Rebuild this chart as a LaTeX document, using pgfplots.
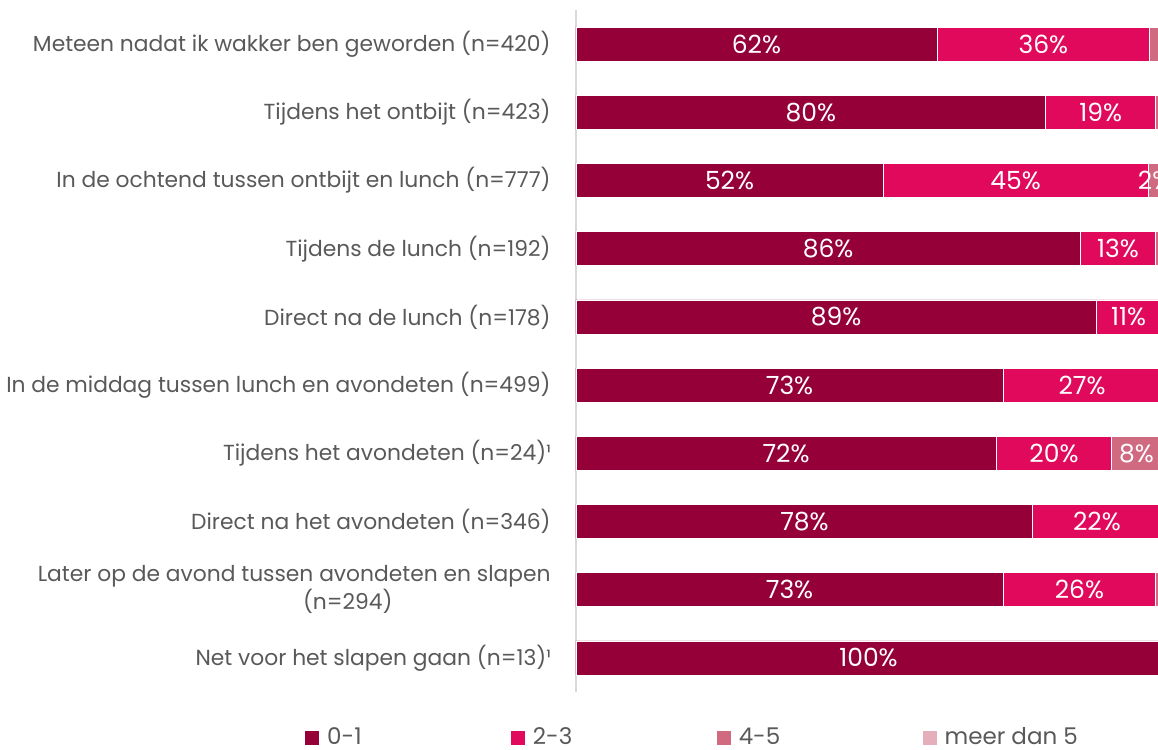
\documentclass[border=0pt]{standalone}
\usepackage{pgfplots}
\pgfplotsset{compat=1.18}
\usepackage{fontspec}
\setmainfont{Poppins}
\definecolor{cA}{HTML}{950039}
\definecolor{cB}{HTML}{E0095B}
\definecolor{cC}{HTML}{D06A80}
\definecolor{cD}{HTML}{E4AEBA}
\definecolor{txt}{HTML}{595959}
\definecolor{axl}{HTML}{D9D9D9}
\begin{document}
\begin{tikzpicture}
\begin{axis}[
  at={(288pt,29pt)}, anchor=south west,
  scale only axis, width=292.5pt, height=341pt,
  xbar stacked, bar width=17pt,
  xmin=0, xmax=100, ymin=-0.5, ymax=9.5, y dir=reverse,
  axis x line=none, axis y line*=left,
  axis line style={axl, line width=1pt},
  ytick={0,...,9}, major tick length=0pt,
  yticklabels={
    {Meteen nadat ik wakker ben geworden (n=420)},
    {Tijdens het ontbijt (n=423)},
    {In de ochtend tussen ontbijt en lunch (n=777)},
    {Tijdens de lunch (n=192)},
    {Direct na de lunch (n=178)},
    {In de middag tussen lunch en avondeten (n=499)},
    {Tijdens het avondeten (n=24)¹},
    {Direct na het avondeten (n=346)},
    {Later op de avond tussen avondeten en slapen\\(n=294)\hspace*{79pt}},
    {Net voor het slapen gaan (n=13)¹}},
  yticklabel style={align=right, inner sep=0pt, xshift=-12.5pt, font=\fontsize{10.9}{12.5}\selectfont, text=txt},
  legend columns=4,
  legend style={at={(-0.465,-0.0674)}, anchor=west, draw=none, inner sep=0pt,
    font=\fontsize{11.5}{13}\selectfont, text=txt,
    /tikz/every odd column/.style={column sep=1.5pt}},
  legend image code/.code={\fill[#1] (0pt,-3.75pt) rectangle (7.5pt,3.75pt);},
]
\addplot[fill=cA, draw=white, line width=0.4pt] coordinates {(61.7,0) (80.3,1) (52.5,2) (86.2,3) (88.9,4) (73.0,5) (71.8,6) (78.1,7) (73.0,8) (100,9)};
\addlegendentry{\makebox[89.5pt][l]{0-1}}
\addplot[fill=cB, draw=white, line width=0.4pt] coordinates {(36.4,0) (18.8,1) (45.3,2) (12.9,3) (11.1,4) (27.0,5) (19.8,6) (21.9,7) (26.1,8) (0,9)};
\addlegendentry{\makebox[89.5pt][l]{2-3}}
\addplot[fill=cC, draw=white, line width=0.4pt] coordinates {(1.9,0) (0.9,1) (2.2,2) (0.9,3) (0,4) (0,5) (8.4,6) (0,7) (0.9,8) (0,9)};
\addlegendentry{\makebox[89.5pt][l]{4-5}}
\addplot[fill=cD, draw=white, line width=0.4pt] coordinates {(0,0) (0,1) (0,2) (0,3) (0,4) (0,5) (0,6) (0,7) (0,8) (0,9)};
\addlegendentry{meer dan 5}
\end{axis}
\begin{axis}[
  at={(288pt,29pt)}, anchor=south west,
  scale only axis, width=292.5pt, height=341pt,
  xmin=0, xmax=100, ymin=-0.5, ymax=9.5, y dir=reverse,
  axis lines=none, clip=false,
]
\addplot[draw=none, mark=none, nodes near coords, point meta=explicit symbolic,
  nodes near coords align=center,
  every node near coord/.append style={text=white, inner sep=0pt, font=\fontsize{12.5}{14}\selectfont}]
  coordinates {
  (30.85,0) [62\%] (79.9,0) [36\%]
  (40.15,1) [80\%] (89.7,1) [19\%]
  (26.25,2) [52\%] (75.15,2) [45\%] (98.9,2) [2\%]
  (43.1,3) [86\%] (92.65,3) [13\%]
  (44.45,4) [89\%] (94.45,4) [11\%]
  (36.5,5) [73\%] (86.5,5) [27\%]
  (35.9,6) [72\%] (81.7,6) [20\%] (95.8,6) [8\%]
  (39.05,7) [78\%] (89.05,7) [22\%]
  (36.5,8) [73\%] (86.05,8) [26\%]
  (50,9) [100\%]
  };
\end{axis}
\pgfresetboundingbox
\path[use as bounding box] (0,0) rectangle (579pt,375pt);
\end{tikzpicture}
\end{document}
